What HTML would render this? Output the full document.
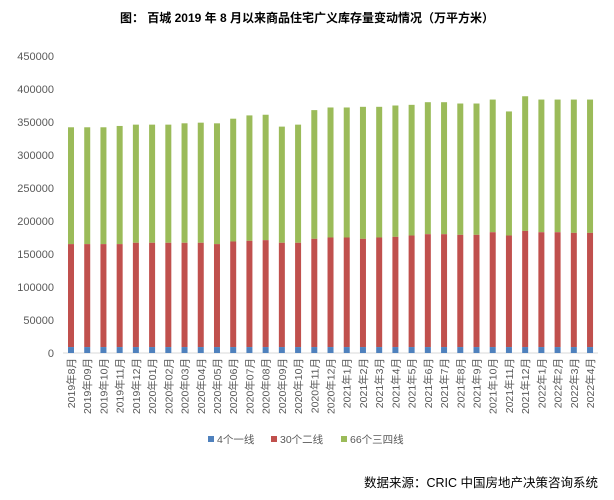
<!DOCTYPE html><html><head><meta charset="utf-8"><style>body{margin:0;background:#fff;width:614px;height:495px;overflow:hidden}</style></head><body>
<svg width="614" height="495" xmlns="http://www.w3.org/2000/svg" font-family="Liberation Sans, Noto Sans CJK SC, sans-serif">
<text x="307" y="22" text-anchor="middle" font-size="12" font-weight="bold" fill="#000">图：  百城 2019 年 8 月以来商品住宅广义库存量变动情况（万平方米）</text>
<g id="ax" font-size="11" fill="#595959" text-anchor="end"></g>
<line x1="63" y1="353" x2="598" y2="353" stroke="#d9d9d9" stroke-width="1"/>
<g id="bars"></g>
<g id="lbl" font-size="10.5" fill="#595959"></g>
<g font-size="10.5" fill="#595959">
<rect x="208" y="436" width="6" height="6" fill="#4f81bd"/><text x="217" y="443">4个一线</text>
<rect x="271" y="436" width="6" height="6" fill="#c0504d"/><text x="280" y="443">30个二线</text>
<rect x="341" y="436" width="6" height="6" fill="#9bbb59"/><text x="350" y="443">66个三四线</text>
</g>
<text x="598" y="487" text-anchor="end" font-size="12.5" fill="#000">数据来源：CRIC 中国房地产决策咨询系统</text>
<script>
var ns="http://www.w3.org/2000/svg";
function el(p,t,a,tx){var e=document.createElementNS(ns,t);for(var k in a)e.setAttribute(k,a[k]);if(tx)e.textContent=tx;document.getElementById(p).appendChild(e);}
for(var i=0;i<=9;i++)el("ax","text",{x:54,y:353-i*33+4},String(i*50000));
var T=[342,342,342,344,346,346,346,348,349,348,355,360,361,343,346,368,372,372,373,373,375,376,380,380,378,378,384,366,389,384,384,384,384];
var R=[165,165,165,165,167,167,167,167,167,165,169,170,171,167,167,173,175,175,173,175,176,178,180,180,179,179,183,178,185,183,183,182,182];
var L=[];for(var m=8;m<=12;m++)L.push("2019年"+(m<10?"0"+m:m)+"月".replace("",""));
L=["2019年8月","2019年09月","2019年10月","2019年11月","2019年12月"];
for(var m=1;m<=12;m++)L.push("2020年"+(m<10?"0"+m:m)+"月");
for(var m=1;m<=12;m++)L.push("2021年"+m+"月");
for(var m=1;m<=4;m++)L.push("2022年"+m+"月");
var k=33/50000;
for(var i=0;i<33;i++){var cx=71+i*16.22,x=cx-3;
 var yb=353-9000*k,yr=353-R[i]*1000*k,yt=353-T[i]*1000*k;
 el("bars","rect",{x:x,y:yt,width:6,height:yr-yt,fill:"#9bbb59"});
 el("bars","rect",{x:x,y:yr,width:6,height:yb-yr,fill:"#c0504d"});
 el("bars","rect",{x:x,y:yb,width:6,height:353-yb,fill:"#4f81bd"});
 el("lbl","text",{x:0,y:0,transform:"translate("+(cx+4)+",358) rotate(-90)","text-anchor":"end"},L[i]);}
</script>
</svg></body></html>
